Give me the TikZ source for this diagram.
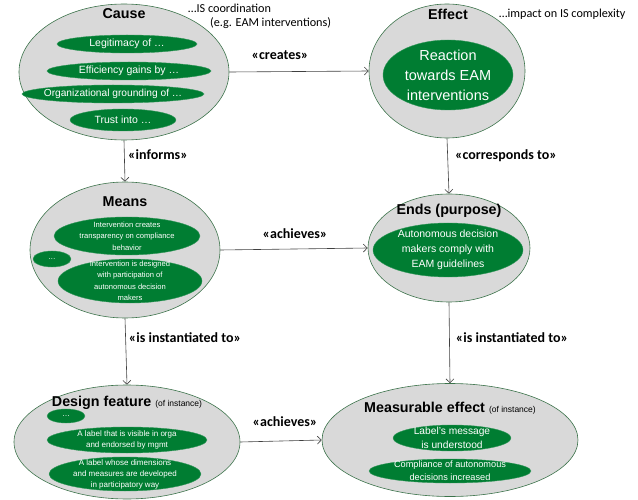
\documentclass[tikz,border=0pt]{standalone}
\usepackage{fontspec}
\setmainfont{Liberation Sans}
\newfontfamily\calibri{Carlito}
\usetikzlibrary{shapes.geometric,arrows.meta,positioning}
\definecolor{eamgreen}{RGB}{0,125,50}
\definecolor{rimgreen}{RGB}{60,115,75}
\definecolor{shellgray}{RGB}{217,217,217}
\definecolor{linegray}{RGB}{64,64,64}

\begin{document}
\begin{tikzpicture}[x=1pt, y=-1pt, >={Straight Barb[length=4pt,width=8pt]},
    shell/.style={draw=rimgreen, fill=shellgray, ellipse, inner sep=0pt, line width=0.6pt},
    blob/.style={draw=eamgreen!80!white, fill=eamgreen, ellipse, inner sep=0pt},
    txt/.style={text=white, align=center, inner sep=0pt},
    title/.style={font=\bfseries\fontsize{14.3}{16}\selectfont},
    rel/.style={font=\calibri\bfseries\fontsize{14}{16}\selectfont},
    note/.style={font=\calibri\fontsize{12.2}{13.5}\selectfont, align=left, inner sep=0pt},
    link/.style={->, draw=linegray, line width=0.6pt}]
    \useasboundingbox (0,0) rectangle (638,500);

    % outer ellipses
    \node [shell, minimum width=210, minimum height=136] (cause) at (124,72) {};
    \node [shell, minimum width=156, minimum height=134] (effect) at (447,71) {};
    \node [shell, minimum width=190, minimum height=136] (means) at (125,250) {};
    \node [shell, minimum width=162, minimum height=108] (ends) at (449,248) {};
    \node [shell, minimum width=226, minimum height=114] (design) at (127,442) {};
    \node [shell, minimum width=256, minimum height=113] (measure) at (450,440) {};

    % titles and side notes
    \node [title] (causet) at (124,14) {Cause};
    \node [title] (effectt) at (448,14) {Effect};
    \node [title] (meanst) at (125,202) {Means};
    \node [title] (endst) at (449,211) {Ends (purpose)};
    \node [title] (designt) at (127,403) {Design feature {\normalfont\fontsize{8.5}{10}\selectfont (of instance)}};
    \node [title] (measuret) at (450,408) {Measurable effect {\normalfont\fontsize{8.5}{10}\selectfont (of instance)}};
    \node [note, anchor=north west] (coord) at (188,4) {\dots IS coordination\\\hspace*{22pt}(e.g. EAM interventions)};
    \node [note, anchor=west] (complex) at (499,14) {\dots impact on IS complexity};

    % cause
    \node [blob, minimum width=140, minimum height=18, label={[txt, font=\fontsize{10.5}{12}\selectfont]center:Legitimacy of \dots}] (legit) at (127,44) {};
    \node [blob, minimum width=164, minimum height=18, label={[txt, font=\fontsize{10.5}{12}\selectfont]center:Efficiency gains by \dots}] (effic) at (129,71) {};
    \node [blob, minimum width=182, minimum height=18, label={[txt, font=\fontsize{10.2}{12}\selectfont]center:Organizational grounding of \dots}] (ground) at (113,94) {};
    \node [blob, minimum width=106, minimum height=22, label={[txt, font=\fontsize{10.5}{12}\selectfont]center:Trust into \dots}] (trust) at (123,120) {};

    % effect
    \node [blob, minimum width=130, minimum height=70, label={[txt, font=\fontsize{14.5}{20}\selectfont]center:Reaction\\towards EAM\\interventions}] (react) at (448,75) {};

    % means
    \node [blob, minimum width=146, minimum height=38, label={[txt, font=\fontsize{7.6}{11.7}\selectfont]center:Intervention creates\\transparency on compliance\\behavior}] (transp) at (127,236) {};
    \node [blob, minimum width=38, minimum height=16, label={[txt, font=\fontsize{7.6}{10}\selectfont]center:\dots}] (meansx) at (52,259) {};
    \node [blob, minimum width=144, minimum height=44, label={[txt, font=\fontsize{7.6}{11.5}\selectfont]center:Intervention is designed\\with participation of\\autonomous decision\\makers}] (partic) at (130,281) {};

    % ends
    \node [blob, minimum width=150, minimum height=54, label={[txt, font=\fontsize{10.5}{15}\selectfont]center:Autonomous decision\\makers comply with\\EAM guidelines}] (comply) at (448,250) {};

    % design feature
    \node [blob, minimum width=38, minimum height=14, label={[txt, font=\fontsize{8}{10}\selectfont]center:\dots}] (designx) at (66,416) {};
    \node [blob, minimum width=160, minimum height=26, label={[txt, font=\fontsize{8}{10.7}\selectfont]center:A label that is visible in orga\\and endorsed by mgmt}] (visible) at (127,440) {};
    \node [blob, minimum width=152, minimum height=34, label={[txt, font=\fontsize{8}{11}\selectfont]center:A label whose dimensions\\and measures are developed\\in participatory way}] (dims) at (125,474) {};

    % measurable effect
    \node [blob, minimum width=118, minimum height=26, label={[txt, font=\fontsize{10.2}{14}\selectfont]center:Label's message\\is understood}] (underst) at (452,438) {};
    \node [blob, minimum width=162, minimum height=24, label={[txt, font=\fontsize{9.2}{12.7}\selectfont]center:Compliance of autonomous\\decisions increased}] (increase) at (450,471) {};

    % relations
    \draw [link] (cause.east) -- (effect.west);
    \draw [link] (cause.south) -- (means.north);
    \draw [link] (effect.south) -- (ends.north);
    \draw [link] (means.east) -- (ends.west);
    \draw [link] (means.south) -- (design.north);
    \draw [link] (ends.south) -- (measure.north);
    \draw [link] (design.east) -- (measure.west);

    \node [rel] (creates) at (280,55) {«creates»};
    \node [rel] (informs) at (158,155) {«informs»};
    \node [rel] (corresp) at (506,156) {«corresponds to»};
    \node [rel] (achieve1) at (295,234) {«achieves»};
    \node [rel] (inst1) at (185,338) {«is instantiated to»};
    \node [rel] (inst2) at (512,338) {«is instantiated to»};
    \node [rel] (achieve2) at (285,422) {«achieves»};
\end{tikzpicture}
\end{document}
